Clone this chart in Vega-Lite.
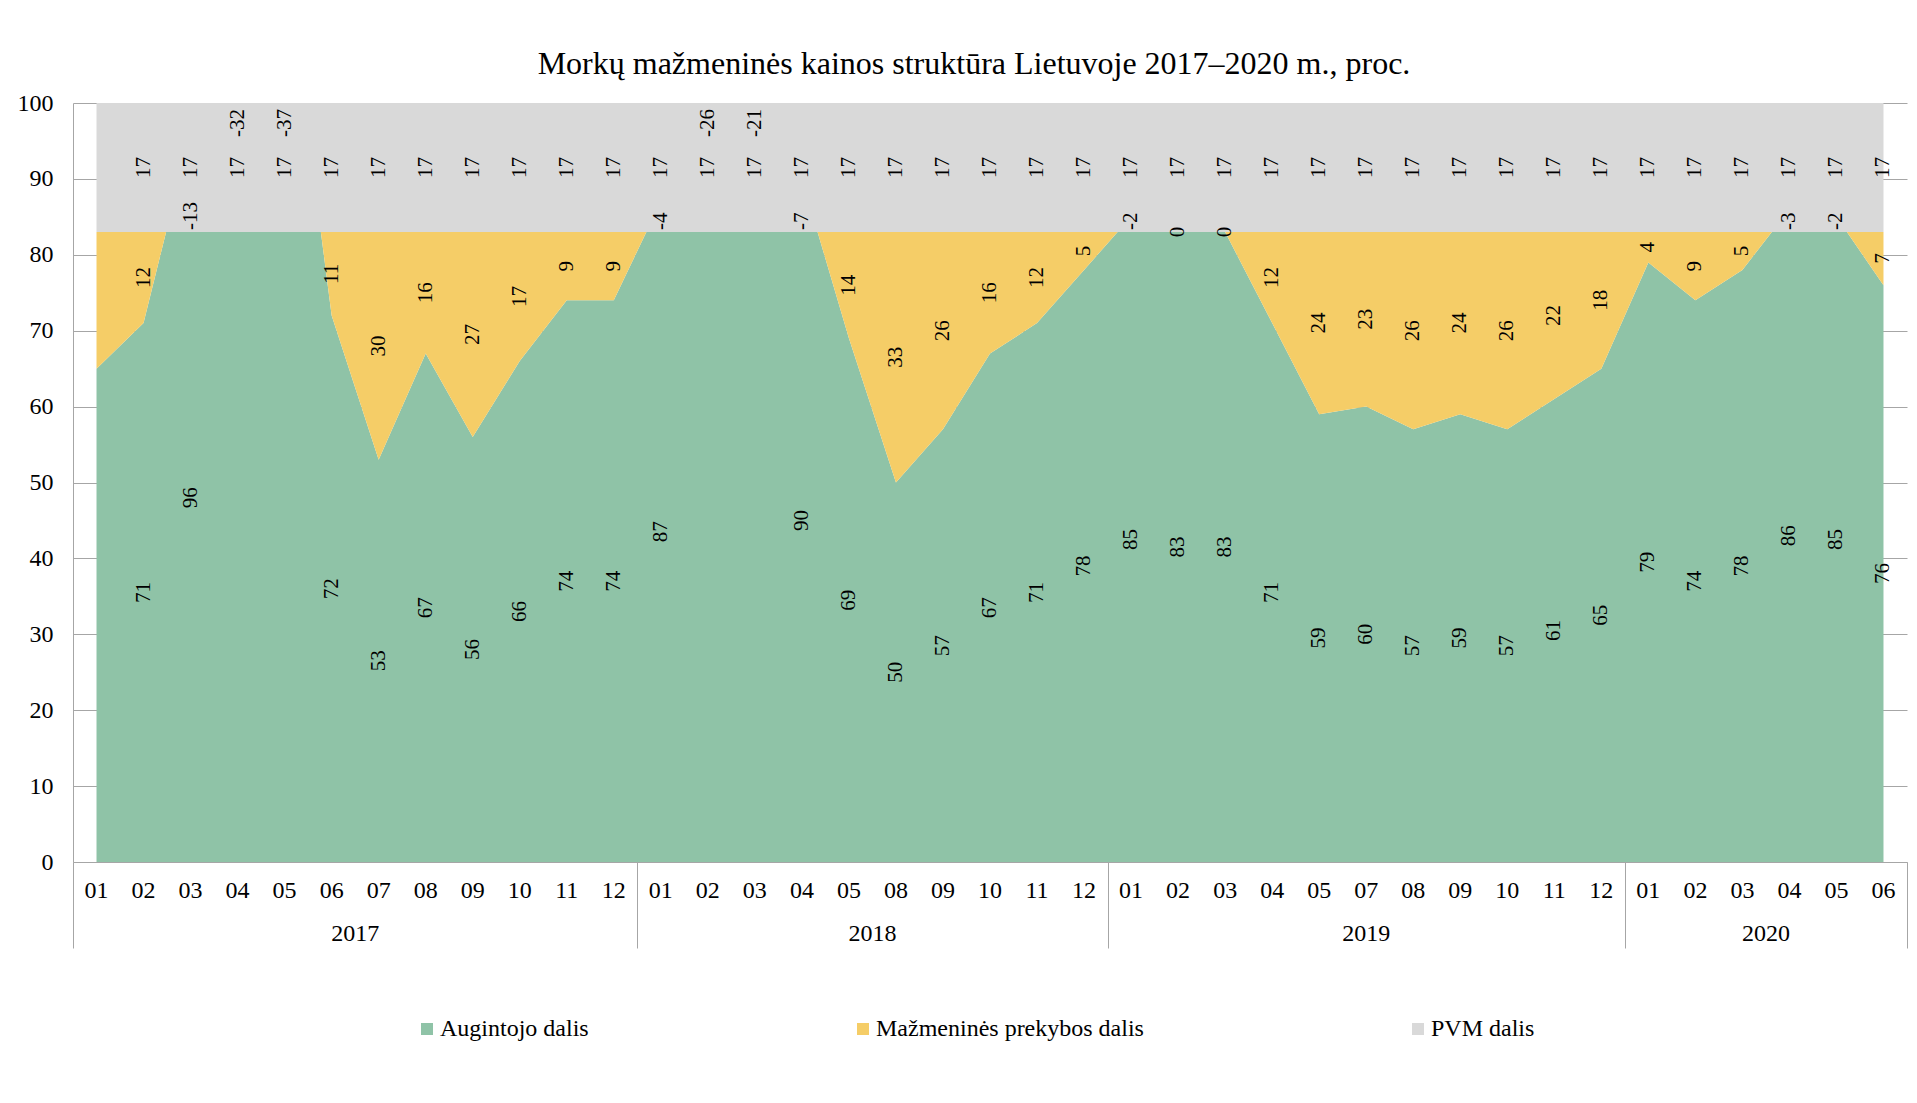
{
  "$schema": "https://vega.github.io/schema/vega-lite/v6.json",
  "width": 1834,
  "height": 759,
  "autosize": {"type": "none"},
  "padding": {"left": 73, "top": 103, "right": 10, "bottom": 241},
  "background": "white",
  "config": {"view": {"stroke": null}, "font": "Liberation Serif"},
  "title": {
    "text": "Morkų mažmeninės kainos struktūra Lietuvoje 2017–2020 m., proc.",
    "font": "Liberation Serif", "fontSize": 32, "fontWeight": "normal", "color": "black",
    "anchor": "middle", "frame": "group", "dx": -16, "offset": 10
  },
  "data": {"values": [
    {"key": "2017-01", "green": 65, "retail": 18, "vat": 17},
    {"key": "2017-02", "green": 71, "retail": 12, "vat": 17},
    {"key": "2017-03", "green": 96, "retail": -13, "vat": 17},
    {"key": "2017-04", "green": 115, "retail": -32, "vat": 17},
    {"key": "2017-05", "green": 120, "retail": -37, "vat": 17},
    {"key": "2017-06", "green": 72, "retail": 11, "vat": 17},
    {"key": "2017-07", "green": 53, "retail": 30, "vat": 17},
    {"key": "2017-08", "green": 67, "retail": 16, "vat": 17},
    {"key": "2017-09", "green": 56, "retail": 27, "vat": 17},
    {"key": "2017-10", "green": 66, "retail": 17, "vat": 17},
    {"key": "2017-11", "green": 74, "retail": 9, "vat": 17},
    {"key": "2017-12", "green": 74, "retail": 9, "vat": 17},
    {"key": "2018-01", "green": 87, "retail": -4, "vat": 17},
    {"key": "2018-02", "green": 109, "retail": -26, "vat": 17},
    {"key": "2018-03", "green": 104, "retail": -21, "vat": 17},
    {"key": "2018-04", "green": 90, "retail": -7, "vat": 17},
    {"key": "2018-05", "green": 69, "retail": 14, "vat": 17},
    {"key": "2018-08", "green": 50, "retail": 33, "vat": 17},
    {"key": "2018-09", "green": 57, "retail": 26, "vat": 17},
    {"key": "2018-10", "green": 67, "retail": 16, "vat": 17},
    {"key": "2018-11", "green": 71, "retail": 12, "vat": 17},
    {"key": "2018-12", "green": 78, "retail": 5, "vat": 17},
    {"key": "2019-01", "green": 85, "retail": -2, "vat": 17},
    {"key": "2019-02", "green": 83, "retail": 0, "vat": 17},
    {"key": "2019-03", "green": 83, "retail": 0, "vat": 17},
    {"key": "2019-04", "green": 71, "retail": 12, "vat": 17},
    {"key": "2019-05", "green": 59, "retail": 24, "vat": 17},
    {"key": "2019-07", "green": 60, "retail": 23, "vat": 17},
    {"key": "2019-08", "green": 57, "retail": 26, "vat": 17},
    {"key": "2019-09", "green": 59, "retail": 24, "vat": 17},
    {"key": "2019-10", "green": 57, "retail": 26, "vat": 17},
    {"key": "2019-11", "green": 61, "retail": 22, "vat": 17},
    {"key": "2019-12", "green": 65, "retail": 18, "vat": 17},
    {"key": "2020-01", "green": 79, "retail": 4, "vat": 17},
    {"key": "2020-02", "green": 74, "retail": 9, "vat": 17},
    {"key": "2020-03", "green": 78, "retail": 5, "vat": 17},
    {"key": "2020-04", "green": 86, "retail": -3, "vat": 17},
    {"key": "2020-05", "green": 85, "retail": -2, "vat": 17},
    {"key": "2020-06", "green": 76, "retail": 7, "vat": 17}
  ]},
  "transform": [
    {"calculate": "datum.green + datum.retail", "as": "c2"},
    {"calculate": "datum.green + datum.retail + datum.vat", "as": "c3"},
    {"calculate": "toString(datum.green)", "as": "greenTxt"},
    {"calculate": "toString(datum.retail)", "as": "retailTxt"},
    {"calculate": "toString(datum.vat)", "as": "vatTxt"}
  ],
  "resolve": {"axis": {"x": "independent"}},
  "layer": [
    {
      "mark": {"type": "area", "clip": true, "interpolate": "linear"},
      "encoding": {
        "x": {"field": "key", "type": "ordinal", "bandPosition": 0.5,
          "scale": {"type": "band", "paddingInner": 0, "paddingOuter": 0},
          "axis": {"orient": "bottom", "title": null, "labelExpr": "slice(datum.value, 5)", "ticks": false,
            "labelPadding": 16, "labelAngle": 0, "domain": true, "domainColor": "#A6A6A6", "domainWidth": 1,
            "grid": false, "labelFont": "Liberation Serif", "labelFontSize": 24, "labelColor": "black",
            "labelOverlap": false, "zindex": 1}},
        "y": {"field": "green", "type": "quantitative", "stack": null,
          "scale": {"domain": [0, 100], "nice": false},
          "axis": {"values": [0, 10, 20, 30, 40, 50, 60, 70, 80, 90, 100], "title": null, "grid": true,
            "gridColor": "#A6A6A6", "gridWidth": 1, "ticks": false, "labelPadding": 20, "domain": true,
            "domainColor": "#A6A6A6", "labelFont": "Liberation Serif", "labelFontSize": 24, "labelColor": "black"}},
        "y2": {"datum": 0},
        "color": {"datum": "Augintojo dalis", "type": "nominal",
          "scale": {"domain": ["Augintojo dalis", "Mažmeninės prekybos dalis", "PVM dalis"],
            "range": ["#8FC3A7", "#F5CD67", "#D9D9D9"]},
          "legend": {"title": null, "orient": "none", "legendX": 342, "legendY": 914, "direction": "horizontal",
            "columns": 3, "columnPadding": 262, "symbolType": "square", "symbolSize": 144, "symbolStrokeWidth": 0,
            "labelFont": "Liberation Serif", "labelFontSize": 24, "labelColor": "black", "labelOffset": 1,
            "labelLimit": 0, "padding": 0}}
      }
    },
    {
      "mark": {"type": "area", "clip": true, "interpolate": "linear"},
      "encoding": {
        "x": {"field": "key", "type": "ordinal", "bandPosition": 0.5,
          "axis": {"orient": "bottom", "title": null, "tickBand": "extent", "ticks": true, "tickSize": 86,
            "tickColor": "#A6A6A6", "tickWidth": 1,
            "tickOpacity": {"condition": {"test": "datum.extra || indexof(['2017-12','2018-12','2019-12','2020-06'], datum.value) >= 0", "value": 1}, "value": 0},
            "labels": false, "domain": false, "grid": false}},
        "y": {"field": "green", "type": "quantitative", "stack": null},
        "y2": {"field": "c2"},
        "color": {"datum": "Mažmeninės prekybos dalis", "type": "nominal"}
      }
    },
    {
      "mark": {"type": "area", "clip": true, "interpolate": "linear"},
      "encoding": {
        "x": {"field": "key", "type": "ordinal", "bandPosition": 0.5,
          "axis": {"orient": "bottom", "title": null, "values": ["2017-06", "2018-05", "2019-07", "2020-03"],
            "ticks": false, "domain": false, "grid": false, "labelExpr": "slice(datum.value, 0, 4)",
            "labelPadding": 59, "labelAngle": 0, "labelFont": "Liberation Serif", "labelFontSize": 24,
            "labelColor": "black", "labelOverlap": false,
            "labelOffset": {"condition": {"test": "datum.value === '2019-07'", "value": 0}, "value": 23.5}}},
        "y": {"field": "c2", "type": "quantitative", "stack": null},
        "y2": {"field": "c3"},
        "color": {"datum": "PVM dalis", "type": "nominal"}
      }
    },
    {
      "transform": [
        {"filter": "datum.key !== '2017-01' && datum.green <= 100"},
        {"calculate": "datum.green / 2", "as": "ypos"}
      ],
      "mark": {"type": "text", "angle": 270, "font": "Liberation Serif", "fontSize": 21, "color": "black", "baseline": "middle", "align": "center"},
      "encoding": {
        "x": {"field": "key", "type": "ordinal", "bandPosition": 0.5, "axis": null},
        "y": {"field": "ypos", "type": "quantitative"},
        "text": {"field": "greenTxt", "type": "nominal"}
      }
    },
    {
      "transform": [
        {"filter": "datum.key !== '2017-01' && datum.retail >= 0"},
        {"calculate": "datum.green + datum.retail / 2", "as": "ypos"}
      ],
      "mark": {"type": "text", "angle": 270, "font": "Liberation Serif", "fontSize": 21, "color": "black", "baseline": "middle", "align": "center"},
      "encoding": {
        "x": {"field": "key", "type": "ordinal", "bandPosition": 0.5, "axis": null},
        "y": {"field": "ypos", "type": "quantitative"},
        "text": {"field": "retailTxt", "type": "nominal"}
      }
    },
    {
      "transform": [
        {"filter": "datum.key !== '2017-01' && datum.retail < 0 && datum.green <= 100"}
      ],
      "mark": {"type": "text", "angle": 270, "font": "Liberation Serif", "fontSize": 21, "color": "black", "baseline": "middle", "align": "left", "dx": 2},
      "encoding": {
        "x": {"field": "key", "type": "ordinal", "bandPosition": 0.5, "axis": null},
        "y": {"field": "c2", "type": "quantitative"},
        "text": {"field": "retailTxt", "type": "nominal"}
      }
    },
    {
      "transform": [
        {"filter": "datum.key !== '2017-01' && datum.retail < 0 && datum.green > 100"}
      ],
      "mark": {"type": "text", "angle": 270, "font": "Liberation Serif", "fontSize": 21, "color": "black", "baseline": "middle", "align": "right", "dx": -6},
      "encoding": {
        "x": {"field": "key", "type": "ordinal", "bandPosition": 0.5, "axis": null},
        "y": {"datum": 100, "type": "quantitative"},
        "text": {"field": "retailTxt", "type": "nominal"}
      }
    },
    {
      "transform": [
        {"filter": "datum.key !== '2017-01'"},
        {"calculate": "datum.c2 + datum.vat / 2", "as": "ypos"}
      ],
      "mark": {"type": "text", "angle": 270, "font": "Liberation Serif", "fontSize": 21, "color": "black", "baseline": "middle", "align": "center"},
      "encoding": {
        "x": {"field": "key", "type": "ordinal", "bandPosition": 0.5, "axis": null},
        "y": {"field": "ypos", "type": "quantitative"},
        "text": {"field": "vatTxt", "type": "nominal"}
      }
    }
  ]
}
